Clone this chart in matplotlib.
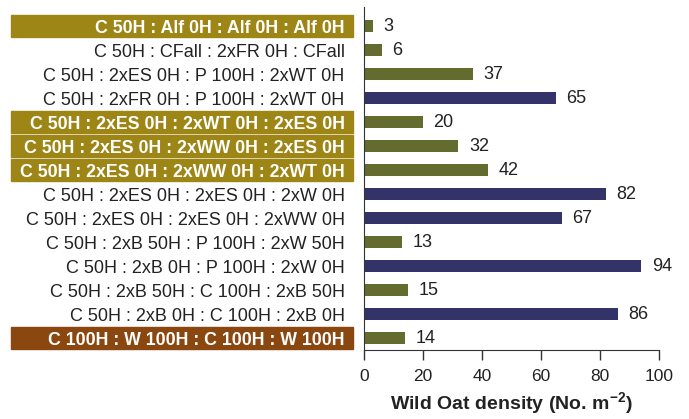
import matplotlib.pyplot as plt
import matplotlib.transforms as mtransforms
from matplotlib.patches import Rectangle

plt.rcParams["font.family"] = ["Liberation Sans", "DejaVu Sans"]

treatments = [
    "C 50H : Alf 0H : Alf 0H : Alf 0H",
    "C 50H : CFall : 2xFR 0H : CFall",
    "C 50H : 2xES 0H : P 100H : 2xWT 0H",
    "C 50H : 2xFR 0H : P 100H : 2xWT 0H",
    "C 50H : 2xES 0H : 2xWT 0H : 2xES 0H",
    "C 50H : 2xES 0H : 2xWW 0H : 2xES 0H",
    "C 50H : 2xES 0H : 2xWW 0H : 2xWT 0H",
    "C 50H : 2xES 0H : 2xES 0H : 2xW 0H",
    "C 50H : 2xES 0H : 2xES 0H : 2xWW 0H",
    "C 50H : 2xB 50H : P 100H : 2xW 50H",
    "C 50H : 2xB 0H : P 100H : 2xW 0H",
    "C 50H : 2xB 50H : C 100H : 2xB 50H",
    "C 50H : 2xB 0H : C 100H : 2xB 0H",
    "C 100H : W 100H : C 100H : W 100H",
]
density = [3, 6, 37, 65, 20, 32, 42, 82, 67, 13, 94, 15, 86, 14]
# bar group: "g" = olive, "n" = navy
bar_group = ["g", "g", "g", "n", "g", "g", "g", "n", "n", "g", "n", "g", "n", "g"]
# label highlight: None, "gold", "brown"
highlight = ["gold", None, None, None, "gold", "gold", "gold",
             None, None, None, None, None, None, "brown"]

bar_colors = {"g": "#636b2f", "n": "#33336a"}
hl_colors = {"gold": "#9d8516", "brown": "#8b4710"}

fig = plt.figure(figsize=(6.89, 4.19), dpi=100)
ax = fig.add_axes([364 / 689, 69 / 419, 295 / 689, 343 / 419])

y = list(range(len(treatments)))
ax.barh(y, density, height=0.5, color=[bar_colors[g] for g in bar_group])

ax.set_xlim(0, 100)
ax.set_ylim(13.5, -0.8)

for yi, v in zip(y, density):
    ax.text(v + 3.6, yi, str(v), va="center", ha="left", fontsize=13, color="#222222")

ax.set_yticks(y)
ax.set_yticklabels(treatments, fontsize=13, color="#222222")
ax.tick_params(axis="y", length=0, pad=14)
ax.set_xticks([0, 20, 40, 60, 80, 100])
ax.tick_params(axis="x", direction="out", length=7.5, width=1, labelsize=12.5,
               colors="#333333", pad=6)
for lbl in ax.get_xticklabels():
    lbl.set_color("#222222")

for s in ["top", "right"]:
    ax.spines[s].set_visible(False)
ax.spines["left"].set_color("#333333")
ax.spines["bottom"].set_color("#333333")

ax.set_xlabel("Wild Oat density (No. m$^{\\mathregular{-2}}$)", fontsize=14, fontweight="bold",
              color="#222222", labelpad=5)

trans = mtransforms.blended_transform_factory(fig.transFigure, ax.transData)
for yi, hl, lbl in zip(y, highlight, ax.get_yticklabels()):
    if hl is None:
        continue
    ax.add_patch(Rectangle((11 / 689, yi - 0.46), 342 / 689, 0.92, transform=trans,
                           color=hl_colors[hl], clip_on=False, zorder=0))
    lbl.set_color("white")
    lbl.set_fontweight("bold")
    lbl.set_fontsize(12.8)

fig.savefig("out.png", dpi=100)
